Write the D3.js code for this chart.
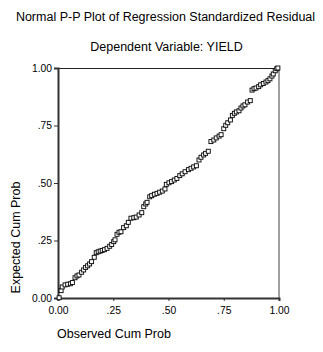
<!DOCTYPE html>
<html>
<head>
<meta charset="utf-8">
<script src="https://cdn.jsdelivr.net/npm/d3@7"></script>
<style>
    body { margin: 0; background: #fff; }
    text { font-family: "Liberation Sans", Arial, sans-serif; fill: #000; }
</style>
</head>
<body>
<svg width="323" height="352"></svg>
<script>
let title = "Normal P-P Plot of Regression Standardized Residual";
let subtitle = "Dependent Variable: YIELD";
let xLabel = "Observed Cum Prob";
let yLabel = "Expected Cum Prob";

let tickValues = [0, 0.25, 0.5, 0.75, 1];
let tickLabels = ["0.00", ".25", ".50", ".75", "1.00"];

// observed cumulative probability for each residual
let observed = [
    0.005, 0.014, 0.019, 0.032, 0.044, 0.056, 0.065, 0.077, 0.086, 0.095,
    0.107, 0.116, 0.125, 0.134, 0.143, 0.152, 0.164, 0.173, 0.182, 0.191,
    0.200, 0.210, 0.222, 0.234, 0.243, 0.252, 0.258, 0.267, 0.276, 0.285,
    0.297, 0.309, 0.318, 0.330, 0.343, 0.354, 0.367, 0.379, 0.388, 0.397,
    0.403, 0.415, 0.424, 0.436, 0.448, 0.460, 0.472, 0.484, 0.490, 0.502,
    0.514, 0.526, 0.538, 0.551, 0.562, 0.575, 0.590, 0.602, 0.614, 0.626,
    0.638, 0.647, 0.659, 0.668, 0.680, 0.692, 0.705, 0.716, 0.729, 0.738,
    0.750, 0.759, 0.768, 0.780, 0.789, 0.798, 0.807, 0.819, 0.828, 0.837,
    0.846, 0.858, 0.870, 0.878, 0.887, 0.896, 0.908, 0.917, 0.929, 0.941,
    0.950, 0.959, 0.968, 0.974, 0.983, 0.990, 0.995
];

// expected cumulative probability under the normal
let expected = [
    0.001, 0.032, 0.048, 0.057, 0.060, 0.062, 0.067, 0.088, 0.096, 0.100,
    0.112, 0.122, 0.133, 0.140, 0.148, 0.158, 0.177, 0.197, 0.201, 0.204,
    0.207, 0.210, 0.216, 0.225, 0.233, 0.245, 0.253, 0.277, 0.286, 0.288,
    0.306, 0.314, 0.329, 0.347, 0.349, 0.352, 0.361, 0.371, 0.397, 0.409,
    0.416, 0.440, 0.445, 0.451, 0.455, 0.460, 0.465, 0.474, 0.494, 0.501,
    0.506, 0.513, 0.520, 0.532, 0.540, 0.549, 0.558, 0.564, 0.570, 0.575,
    0.600, 0.612, 0.622, 0.629, 0.638, 0.680, 0.687, 0.696, 0.704, 0.710,
    0.736, 0.751, 0.762, 0.774, 0.794, 0.803, 0.809, 0.814, 0.826, 0.835,
    0.840, 0.852, 0.858, 0.904, 0.910, 0.913, 0.919, 0.927, 0.933, 0.939,
    0.945, 0.953, 0.965, 0.974, 0.988, 0.997, 1.000
];

let svg = d3.select("svg");
let plot = {left: 58, right: 279, top: 68, bottom: 298};

let x = d3.scaleLinear().domain([0, 1]).range([plot.left, plot.right]);
let y = d3.scaleLinear().domain([0, 1]).range([plot.bottom, plot.top]);

svg.append("text")
    .attr("x", 165.5)
    .attr("y", 21)
    .attr("text-anchor", "middle")
    .style("font-size", "12.5px")
    .text(title);

svg.append("text")
    .attr("x", 166.5)
    .attr("y", 51)
    .attr("text-anchor", "middle")
    .style("font-size", "12.5px")
    .text(subtitle);

// frame: top and right
svg.append("line")
    .attr("x1", plot.left).attr("x2", plot.right)
    .attr("y1", plot.top + 0.5).attr("y2", plot.top + 0.5)
    .attr("stroke", "#222").attr("stroke-width", 1);
svg.append("line")
    .attr("x1", plot.right).attr("x2", plot.right)
    .attr("y1", plot.top).attr("y2", plot.bottom)
    .attr("stroke", "#808080").attr("stroke-width", 1.5);

let fmt = (d) => tickLabels[tickValues.indexOf(d)];

let xAxis = svg.append("g")
    .attr("transform", `translate(0,${plot.bottom})`)
    .call(d3.axisBottom(x).tickValues(tickValues).tickFormat(fmt).tickSizeOuter(0).tickSize(3).tickPadding(6));

let yAxis = svg.append("g")
    .attr("transform", `translate(${plot.left},0)`)
    .call(d3.axisLeft(y).tickValues(tickValues).tickFormat(fmt).tickSizeOuter(0).tickSize(4).tickPadding(2));

[xAxis, yAxis].forEach((g) => {
    g.select(".domain").attr("stroke", "#333").attr("stroke-width", 2);
    g.selectAll(".tick line").attr("stroke", "#333").attr("stroke-width", 1);
    g.selectAll(".tick text")
        .style("font-family", "'Liberation Sans', Arial, sans-serif")
        .style("font-size", "10.3px")
        .attr("fill", "#000");
});

let pts = observed.map((d, i) => ({o: d, e: expected[i]}));

svg.append("g")
    .selectAll("rect")
    .data(pts)
    .enter().append("rect")
    .attr("x", d => x(d.o) - 2)
    .attr("y", d => y(d.e) - 2)
    .attr("width", 4)
    .attr("height", 4)
    .attr("fill", "#fff")
    .attr("stroke", "#000")
    .attr("stroke-width", 0.9);

svg.append("text")
    .attr("transform", "translate(20,237.5) rotate(-90)")
    .attr("text-anchor", "middle")
    .style("font-size", "12.5px")
    .text(yLabel);

svg.append("text")
    .attr("x", 57)
    .attr("y", 337.5)
    .style("font-size", "12.5px")
    .text(xLabel);
</script>
</body>
</html>
